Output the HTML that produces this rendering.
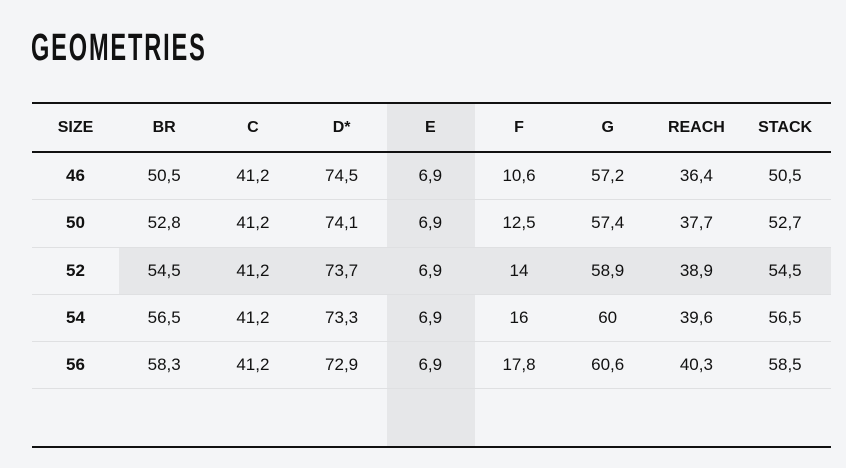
<!DOCTYPE html>
<html><head><style>
body{margin:0;width:846px;height:468px;background:#f4f5f7;position:relative;overflow:hidden;font-family:"Liberation Sans",sans-serif;color:#111}
.t{position:absolute;left:31px;top:28px;font-size:38px;font-weight:bold;letter-spacing:3px;transform:scaleX(0.62);transform-origin:0 0;white-space:nowrap;line-height:40px}
.hl{position:absolute;background:#e6e7e9}
.ln{position:absolute;left:32px;width:799px}
.c{position:absolute;width:89px;text-align:center;font-size:17px}
.h{font-weight:bold;font-size:16px}
.b{font-weight:bold}
</style></head><body>
<div class="t">GEOMETRIES</div>
<div class="hl" style="left:387px;top:104px;width:88px;height:344px"></div>
<div class="hl" style="left:119px;top:248px;width:712px;height:46px"></div>
<div class="ln" style="top:102px;height:2px;background:#111"></div>
<div class="ln" style="top:151px;height:2px;background:#111"></div>
<div class="ln" style="top:199px;height:1px;background:#dfe0e2"></div>
<div class="ln" style="top:247px;height:1px;background:#dfe0e2"></div>
<div class="ln" style="top:294px;height:1px;background:#dfe0e2"></div>
<div class="ln" style="top:341px;height:1px;background:#dfe0e2"></div>
<div class="ln" style="top:388px;height:1px;background:#dfe0e2"></div>
<div class="ln" style="top:446px;height:2px;background:#111"></div>
<div id="g"></div>
<script>
var rows=[["SIZE","BR","C","D*","E","F","G","REACH","STACK"],
["46","50,5","41,2","74,5","6,9","10,6","57,2","36,4","50,5"],
["50","52,8","41,2","74,1","6,9","12,5","57,4","37,7","52,7"],
["52","54,5","41,2","73,7","6,9","14","58,9","38,9","54,5"],
["54","56,5","41,2","73,3","6,9","16","60","39,6","56,5"],
["56","58,3","41,2","72,9","6,9","17,8","60,6","40,3","58,5"]];
var ys=[119,166,213,261,308,355],h="";
rows.forEach(function(r,i){r.forEach(function(v,j){
var cls="c"+(i==0?" h":(j==0?" b":""));
h+='<div class="'+cls+'" style="left:'+(31+j*88.7)+'px;top:'+ys[i]+'px">'+v+'</div>';});});
document.getElementById("g").innerHTML=h;
</script>
</body></html>
